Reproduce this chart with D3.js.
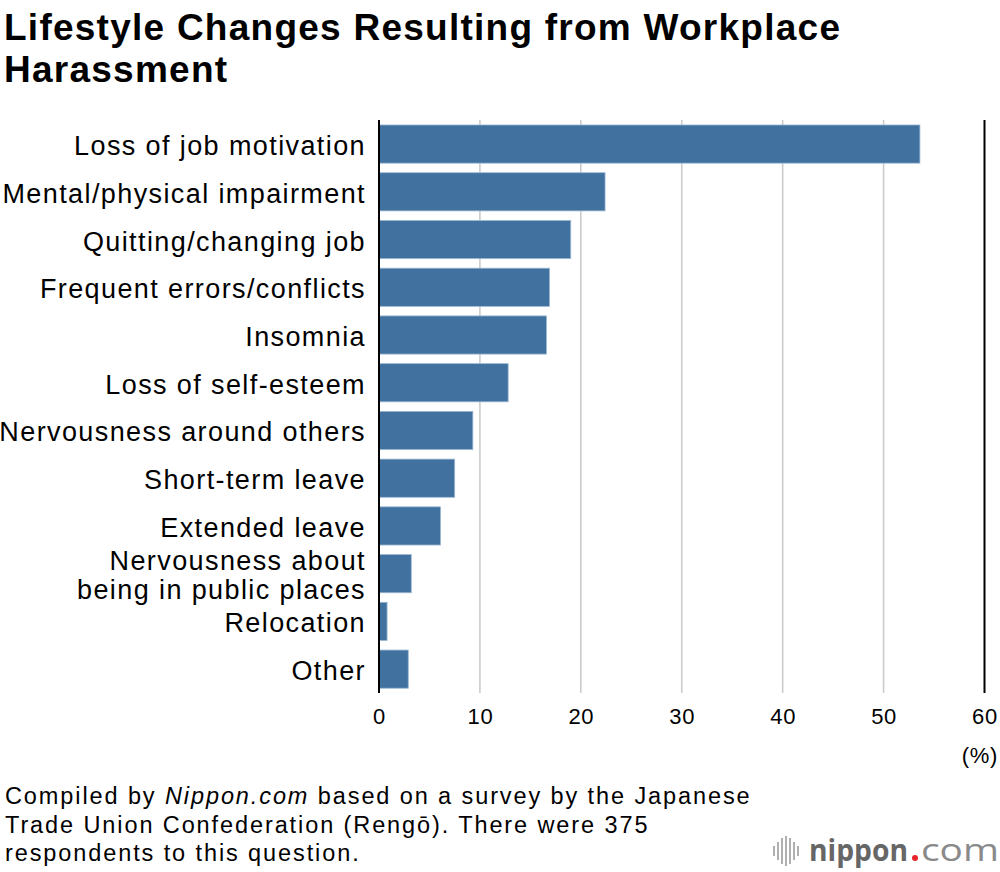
<!DOCTYPE html>
<html><head><meta charset="utf-8">
<script src="https://cdn.jsdelivr.net/npm/d3@7"></script>
<style>body{margin:0;background:#fff;} svg{display:block;}</style>
</head><body>
<script>
const categories = ["Loss of job motivation","Mental/physical impairment","Quitting/changing job","Frequent errors/conflicts","Insomnia","Loss of self-esteem","Nervousness around others","Short-term leave","Extended leave","Nervousness about\nbeing in public places","Relocation","Other"];
const values = [53.6, 22.4, 19.0, 16.9, 16.6, 12.8, 9.3, 7.5, 6.1, 3.2, 0.8, 2.9];
const ticks = [0,10,20,30,40,50,60];
const title = ["Lifestyle Changes Resulting from Workplace","Harassment"];

const W=1000,H=872;
const font="'Liberation Sans', Arial, Helvetica, sans-serif";
const svg=d3.select("body").append("svg").attr("width",W).attr("height",H).style("font-family",font);

const x=d3.scaleLinear().domain([0,60]).range([379,984.5]);
const y=d3.scaleBand().domain(categories).range([120.2,693]).paddingInner(0.2).paddingOuter(0.1);

// title
svg.append("g").selectAll("text").data(title).join("text")
  .attr("x",4).attr("y",(d,i)=>40+i*42).attr("font-size",37).attr("font-weight","bold")
  .attr("letter-spacing",1.25).attr("fill","#000").text(d=>d);

// grid
const g=svg.append("g");
g.selectAll("line.grid").data(ticks.filter(t=>t>0&&t<60)).join("line").attr("class","grid")
  .attr("x1",d=>x(d)).attr("x2",d=>x(d)).attr("y1",120).attr("y2",693)
  .attr("stroke","#cccccc").attr("stroke-width",1.6);

// bars
g.selectAll("rect").data(values).join("rect")
  .attr("x",x(0)).attr("y",(d,i)=>y(categories[i]))
  .attr("width",d=>x(d)-x(0)).attr("height",y.bandwidth())
  .attr("fill","#41729f").attr("stroke","#9db9d4").attr("stroke-width",0.8);

// axis lines
[0,60].forEach(t=>{
  g.append("line").attr("x1",x(t)).attr("x2",x(t)).attr("y1",120).attr("y2",693).attr("stroke","#000").attr("stroke-width",2);
});

// x axis via d3
const ax=svg.append("g").attr("transform","translate(0,693)")
  .call(d3.axisBottom(x).tickValues(ticks).tickSize(0).tickPadding(15).tickFormat(d3.format("d")));
ax.select(".domain").remove();
ax.selectAll("text").attr("font-size",22).attr("font-family",font).attr("letter-spacing",0.7).attr("fill","#000");
svg.append("text").attr("x",998).attr("y",763).attr("text-anchor","end").attr("font-size",22).attr("letter-spacing",0.7).text("(%)");

// category labels
const lab=svg.append("g").selectAll("text").data(categories).join("text")
  .attr("text-anchor","end").attr("font-size",27).attr("letter-spacing",1.4).attr("fill","#000");
lab.each(function(d){
  const lines=d.split("\n");
  const cy=y(d)+y.bandwidth()/2;
  const el=d3.select(this);
  lines.forEach((l,i)=>{
    el.append("tspan").attr("x",366).attr("y",cy+11+(i-(lines.length-1)/2)*29).text(l);
  });
});

// footer
const foot=svg.append("g").attr("font-size",23.5).attr("letter-spacing",1.9).attr("fill","#000");
const f1=foot.append("text").attr("x",5).attr("y",804);
f1.append("tspan").text("Compiled by ");
f1.append("tspan").attr("font-style","italic").text("Nippon.com");
f1.append("tspan").text(" based on a survey by the Japanese");
foot.append("text").attr("x",5).attr("y",833).text("Trade Union Confederation (Rengō). There were 375");
foot.append("text").attr("x",5).attr("y",861).text("respondents to this question.");

// logo
const logo=svg.append("g");
const barsIcon=[[774,846,856],[778,842,860],[782,838,864],[786,836,866],[790,838,864],[794,842,860],[798,846,856]];
logo.selectAll("line").data(barsIcon).join("line")
  .attr("x1",d=>d[0]).attr("x2",d=>d[0]).attr("y1",d=>d[1]).attr("y2",d=>d[2])
  .attr("stroke","#b0b0b0").attr("stroke-width",2);
logo.append("text").attr("x",809).attr("y",861).attr("font-size",31).attr("font-weight","bold")
  .attr("font-family","'Open Sans', sans-serif").attr("fill","#666")
  .attr("textLength",99).attr("lengthAdjust","spacingAndGlyphs").text("nippon");
logo.append("circle").attr("cx",915).attr("cy",858).attr("r",3).attr("fill","#e8262a");
logo.append("text").attr("x",999).attr("y",861).attr("text-anchor","end").attr("font-size",31)
  .attr("font-family","'Open Sans', sans-serif").attr("fill","#8a8a8a")
  .attr("textLength",78).attr("lengthAdjust","spacingAndGlyphs").text("com");
</script>
</body></html>
